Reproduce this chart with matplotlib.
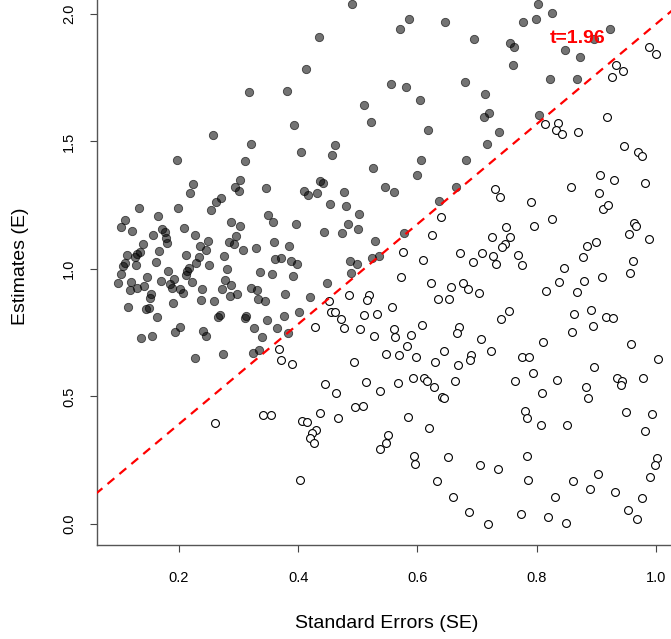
import matplotlib
matplotlib.use("Agg")
import matplotlib.pyplot as plt
import numpy as np

plt.rcParams['font.family'] = ['Liberation Sans', 'DejaVu Sans']

# significant estimates (|E/SE| > 1.96)
sig_se = [0.257, 0.197, 0.491, 0.435, 0.413, 0.317, 0.381, 0.510, 0.522, 0.393,
          0.320, 0.462, 0.405, 0.457, 0.311, 0.525, 0.302, 0.437, 0.442, 0.586,
          0.571, 0.647, 0.777, 0.695, 0.755, 0.762, 0.760, 0.556, 0.580, 0.679,
          0.604, 0.714, 0.720, 0.712, 0.617, 0.737, 0.716, 0.606, 0.682, 0.599,
          0.802, 0.799, 0.826, 0.923, 0.896, 0.848, 0.872, 0.823, 0.867, 0.804,
          0.224, 0.294, 0.300, 0.218, 0.270, 0.262, 0.253, 0.132, 0.199, 0.109,
          0.103, 0.121, 0.164, 0.287, 0.303, 0.209, 0.172, 0.177, 0.157, 0.227,
          0.296, 0.178, 0.180, 0.283, 0.292, 0.249, 0.235, 0.140, 0.135, 0.166,
          0.246, 0.113, 0.126, 0.130, 0.128, 0.161, 0.212, 0.234, 0.229, 0.251,
          0.275, 0.106, 0.110, 0.102, 0.098, 0.119, 0.117, 0.130, 0.142, 0.146,
          0.182, 0.213, 0.216, 0.211, 0.169, 0.192, 0.185, 0.188, 0.222, 0.202,
          0.206, 0.153, 0.151, 0.239, 0.281, 0.277, 0.288, 0.272, 0.285, 0.298,
          0.237, 0.258, 0.190, 0.115, 0.144, 0.149, 0.163, 0.265, 0.268, 0.201,
          0.193, 0.241, 0.245, 0.137, 0.155, 0.226, 0.273, 0.346, 0.409, 0.417,
          0.432, 0.476, 0.453, 0.480, 0.502, 0.350, 0.357, 0.396, 0.483, 0.444,
          0.474, 0.500, 0.359, 0.384, 0.329, 0.308, 0.529, 0.361, 0.371, 0.388,
          0.398, 0.487, 0.498, 0.523, 0.535, 0.336, 0.356, 0.392, 0.489, 0.449,
          0.321, 0.330, 0.378, 0.419, 0.333, 0.344, 0.401, 0.376, 0.311, 0.313,
          0.348, 0.325, 0.365, 0.382, 0.340, 0.334, 0.324, 0.545, 0.560, 0.664,
          0.636, 0.577]
sig_est = [1.526, 1.428, 2.039, 1.910, 1.785, 1.692, 1.699, 1.642, 1.575, 1.566,
           1.490, 1.486, 1.459, 1.446, 1.422, 1.397, 1.349, 1.345, 1.339, 1.982,
           1.941, 1.968, 1.968, 1.901, 1.885, 1.870, 1.799, 1.727, 1.713, 1.732,
           1.664, 1.686, 1.612, 1.597, 1.544, 1.539, 1.490, 1.428, 1.428, 1.370,
           2.039, 1.982, 2.003, 1.940, 1.901, 1.860, 1.833, 1.744, 1.744, 1.605,
           1.335, 1.322, 1.305, 1.298, 1.277, 1.263, 1.231, 1.241, 1.241, 1.192,
           1.166, 1.150, 1.209, 1.186, 1.168, 1.161, 1.157, 1.146, 1.133, 1.133,
           1.128, 1.122, 1.101, 1.106, 1.097, 1.111, 1.089, 1.098, 1.067, 1.071,
           1.076, 1.054, 1.046, 1.057, 1.015, 1.028, 1.055, 1.046, 1.024, 1.015,
           1.050, 1.012, 1.022, 0.979, 0.946, 0.948, 0.919, 0.927, 0.932, 0.969,
           0.991, 0.993, 1.002, 0.978, 0.952, 0.960, 0.942, 0.926, 0.950, 0.923,
           0.906, 0.903, 0.888, 0.920, 0.999, 0.958, 0.937, 0.923, 0.893, 0.901,
           0.880, 0.875, 0.867, 0.852, 0.843, 0.847, 0.812, 0.813, 0.820, 0.773,
           0.754, 0.756, 0.736, 0.728, 0.736, 0.652, 0.666, 1.317, 1.305, 1.289,
           1.298, 1.303, 1.254, 1.248, 1.217, 1.213, 1.186, 1.178, 1.177, 1.146,
           1.141, 1.156, 1.106, 1.089, 1.084, 1.073, 1.110, 1.038, 1.044, 1.031,
           1.019, 1.030, 1.020, 1.044, 1.050, 0.987, 0.982, 0.973, 0.983, 0.946,
           0.924, 0.918, 0.902, 0.891, 0.884, 0.873, 0.830, 0.815, 0.809, 0.816,
           0.800, 0.768, 0.768, 0.750, 0.732, 0.682, 0.669, 1.323, 1.302, 1.322,
           1.267, 1.142]

# non-significant estimates
ns_se = [0.989, 1.000, 0.933, 0.945, 0.926, 0.814, 0.836, 0.832, 0.842, 0.870,
         0.918, 0.947, 0.970, 0.976, 0.906, 0.930, 0.981, 0.451, 0.485, 0.518,
         0.515, 0.455, 0.461, 0.471, 0.511, 0.532, 0.428, 0.477, 0.504, 0.527,
         0.368, 0.371, 0.389, 0.494, 0.730, 0.739, 0.640, 0.624, 0.749, 0.725,
         0.755, 0.747, 0.742, 0.575, 0.672, 0.708, 0.727, 0.768, 0.775, 0.609,
         0.693, 0.732, 0.573, 0.623, 0.657, 0.677, 0.684, 0.703, 0.634, 0.653,
         0.558, 0.753, 0.741, 0.608, 0.561, 0.670, 0.667, 0.563, 0.589, 0.583,
         0.706, 0.645, 0.724, 0.548, 0.569, 0.598, 0.690, 0.689, 0.630, 0.668,
         0.776, 0.857, 0.905, 0.790, 0.911, 0.920, 0.825, 0.796, 0.964, 0.966,
         0.955, 0.988, 0.884, 0.899, 0.878, 0.962, 0.956, 0.846, 0.838, 0.880,
         0.909, 0.815, 0.868, 0.891, 0.863, 0.916, 0.928, 0.895, 0.859, 0.811,
         0.958, 0.788, 1.004, 0.260, 0.445, 0.464, 0.514, 0.537, 0.341, 0.354,
         0.406, 0.415, 0.437, 0.466, 0.496, 0.509, 0.430, 0.423, 0.419, 0.427,
         0.538, 0.403, 0.568, 0.592, 0.611, 0.616, 0.628, 0.663, 0.642, 0.644,
         0.764, 0.584, 0.619, 0.550, 0.547, 0.594, 0.596, 0.651, 0.705, 0.735,
         0.632, 0.659, 0.687, 0.718, 0.773, 0.781, 0.784, 0.783, 0.786, 0.794,
         0.834, 0.809, 0.897, 0.882, 0.886, 0.935, 0.943, 0.941, 0.979, 0.950,
         0.993, 0.982, 0.807, 0.851, 1.002, 0.998, 0.990, 0.903, 0.861, 0.890,
         0.931, 0.977, 0.831, 0.953, 0.968, 0.819, 0.849]
ns_est = [1.870, 1.843, 1.799, 1.775, 1.752, 1.569, 1.572, 1.546, 1.528, 1.539,
          1.597, 1.482, 1.459, 1.441, 1.370, 1.349, 1.339, 0.875, 0.897, 0.897,
          0.879, 0.830, 0.830, 0.803, 0.820, 0.825, 0.773, 0.768, 0.766, 0.736,
          0.688, 0.643, 0.626, 0.635, 1.313, 1.284, 1.204, 1.132, 1.165, 1.124,
          1.124, 1.098, 1.086, 1.066, 1.062, 1.062, 1.052, 1.054, 1.017, 1.034,
          1.029, 1.019, 0.968, 0.946, 0.931, 0.944, 0.922, 0.906, 0.882, 0.882,
          0.851, 0.835, 0.803, 0.779, 0.766, 0.771, 0.748, 0.732, 0.740, 0.699,
          0.727, 0.678, 0.677, 0.666, 0.664, 0.656, 0.662, 0.643, 0.635, 0.625,
          0.655, 1.321, 1.298, 1.262, 1.237, 1.250, 1.196, 1.169, 1.181, 1.168,
          1.137, 1.119, 1.089, 1.106, 1.048, 1.030, 0.986, 1.003, 0.950, 0.954,
          0.968, 0.914, 0.910, 0.839, 0.825, 0.812, 0.807, 0.775, 0.753, 0.713,
          0.707, 0.656, 0.647, 0.395, 0.548, 0.513, 0.557, 0.523, 0.427, 0.427,
          0.405, 0.400, 0.435, 0.415, 0.459, 0.463, 0.370, 0.358, 0.338, 0.319,
          0.294, 0.173, 0.553, 0.574, 0.571, 0.561, 0.538, 0.562, 0.499, 0.494,
          0.562, 0.418, 0.375, 0.348, 0.317, 0.267, 0.236, 0.263, 0.231, 0.217,
          0.169, 0.106, 0.048, -0.001, 0.039, 0.445, 0.415, 0.267, 0.173, 0.592,
          0.566, 0.513, 0.615, 0.538, 0.494, 0.571, 0.562, 0.546, 0.574, 0.440,
          0.431, 0.365, 0.388, 0.388, 0.259, 0.231, 0.183, 0.196, 0.169, 0.137,
          0.124, 0.102, 0.106, 0.054, 0.018, 0.026, 0.004]

t_crit = 1.96
xticks = [0.2, 0.4, 0.6, 0.8, 1.0]
yticks = [0.0, 0.5, 1.0, 1.5, 2.0]

fig = plt.figure(figsize=(6.71, 6.39), dpi=100)
ax = fig.add_axes([0.1446, 0.1471, 0.8648, 0.871])

ax.scatter(sig_se, sig_est, s=36, facecolor=(0, 0, 0, 0.55),
           edgecolor=(0, 0, 0, 0.65), linewidth=0.6, zorder=2)
ax.scatter(ns_se, ns_est, s=32, facecolor='white', edgecolor='black',
           linewidth=0.8, zorder=2)

xl = np.array([0.0, 1.2])
ax.plot(xl, t_crit * xl, color='red', lw=1.6, ls=(0, (4, 3)), zorder=3)
ax.text(0.868, 1.902, 't=%.2f' % t_crit, color='red', fontsize=14,
        fontweight='bold', ha='center', va='center', zorder=4)

ax.set_xlim(0.0624, 1.036)
ax.set_ylim(-0.0824, 2.1)
ax.set_xticks(xticks)
ax.set_xticklabels(['%.1f' % v for v in xticks])
ax.set_yticks(yticks)
ax.set_yticklabels(['%.1f' % v for v in yticks], rotation=90, va='center')
ax.tick_params(direction='out', length=5, width=0.8, color='#444444',
               labelsize=10.5)
ax.tick_params(axis='x', pad=14)
ax.tick_params(axis='y', pad=10)

for side in ['top', 'right']:
    ax.spines[side].set_visible(False)
for side in ['left', 'bottom']:
    ax.spines[side].set_color('#555555')
    ax.spines[side].set_linewidth(1.0)

ax.set_xlabel('Standard Errors (SE)', fontsize=14, labelpad=21)
ax.set_ylabel('Estimates (E)', fontsize=14, labelpad=24)

fig.savefig('out.png', dpi=100)
